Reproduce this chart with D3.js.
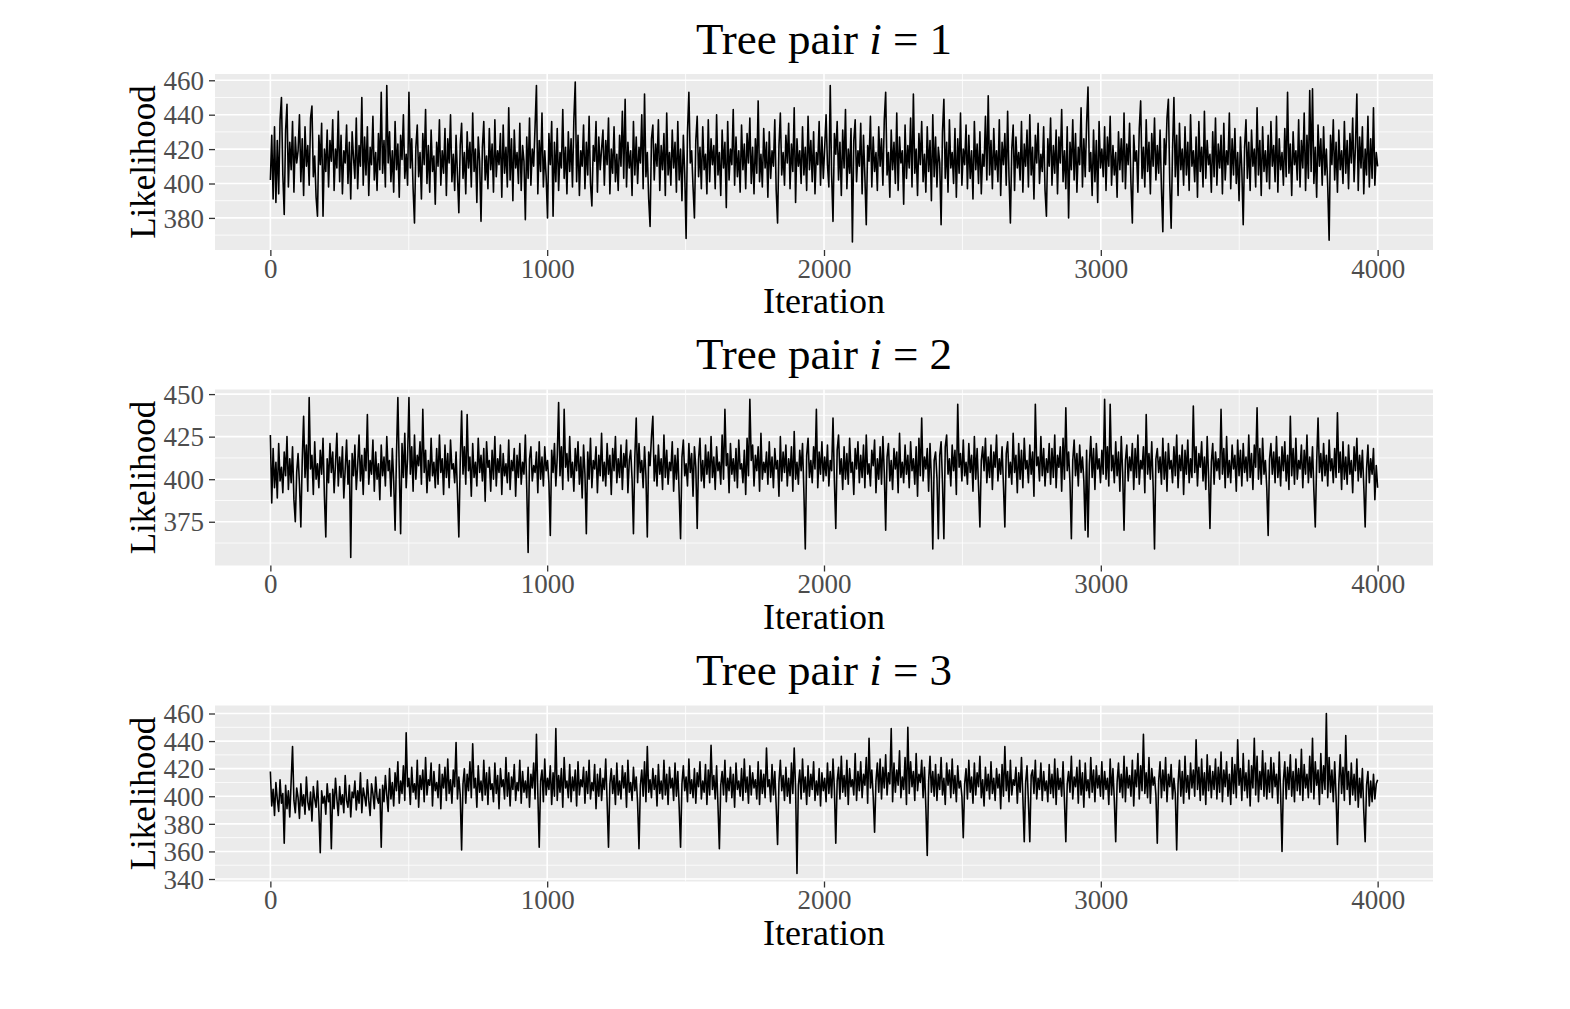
<!DOCTYPE html>
<html><head><meta charset="utf-8">
<script src="https://cdn.jsdelivr.net/npm/d3@7"></script>
<style>body{margin:0;background:#fff}</style>
</head><body><svg id="c" width="1570" height="1009"></svg>
<script>
// ---- data ----
const panelLabels = ["1", "2", "3"];
const xTicks = [0, 1000, 2000, 3000, 4000];
const xMinor = [500, 1500, 2500, 3500];
const yTicks1 = [380, 400, 420, 440, 460];
const yMinor1 = [370, 390, 410, 430, 450];
const yTicks2 = [375, 400, 425, 450];
const yMinor2 = [362.5, 387.5, 412.5, 437.5];
const yTicks3 = [340, 360, 380, 400, 420, 440, 460];
const yMinor3 = [350, 370, 390, 410, 430, 450];

// likelihood read every 5 iterations (0 .. 4000)
const likelihood1 = [
402,428,391,433,389,425,394,437,450,405,382,431,446,398,424,408,436,395,427,412,
419,440,401,426,393,433,410,422,399,438,445,404,416,392,381,428,411,435,381,420,
407,431,398,425,413,437,396,420,409,442,401,428,394,419,412,434,400,424,391,430,
415,403,438,397,422,410,450,399,427,405,433,393,421,411,439,402,418,396,429,408,
453,406,425,398,457,412,430,401,419,395,436,408,423,392,428,414,440,403,417,399,
453,409,426,397,377,421,434,404,418,391,429,411,443,400,422,395,431,407,416,388,
424,410,437,399,419,406,432,393,426,412,440,401,417,396,428,405,383,422,435,403,
418,394,430,409,424,398,441,407,420,389,427,413,378,421,436,402,416,397,432,408,
423,395,437,404,419,411,429,392,434,406,421,398,444,402,426,390,431,409,418,400,
435,396,422,413,379,427,403,438,399,420,410,433,457,394,425,407,441,398,419,404,
380,429,411,436,381,424,401,432,396,418,409,443,403,421,394,430,407,426,398,437,
459,401,428,393,419,410,434,397,424,405,439,400,387,422,413,436,395,427,408,420,
431,399,425,411,438,394,420,406,433,401,417,396,428,410,442,403,449,398,424,409,
419,393,436,405,427,400,421,412,440,397,452,404,418,391,375,426,434,402,423,410,
437,396,422,408,429,393,441,405,418,399,431,409,424,395,436,402,420,390,428,406,
368,430,453,412,419,398,380,425,439,404,421,397,433,408,417,394,437,401,426,411,
422,397,440,405,418,393,431,409,424,386,436,402,420,411,443,399,427,404,419,395,
434,408,423,397,429,412,438,400,421,394,426,406,448,401,417,398,432,409,424,392,
430,403,419,410,437,396,377,422,441,405,418,399,428,412,435,397,423,407,444,389,
426,410,419,400,433,405,421,396,439,408,425,401,430,394,418,411,436,399,427,403,
421,440,411,398,457,405,378,429,417,436,402,424,393,431,409,443,397,420,406,432,
366,425,437,401,419,410,435,394,428,404,376,422,413,439,398,427,407,418,396,433,
410,426,399,437,453,405,418,392,431,408,424,400,441,396,427,412,419,388,434,403,
422,409,438,398,452,406,420,393,429,411,436,401,417,395,433,407,425,390,440,404,
427,398,421,412,376,430,449,403,424,395,437,409,418,400,432,392,426,406,441,399,
420,411,434,397,428,403,419,391,436,408,423,400,430,394,417,410,439,402,451,405,
425,397,432,408,419,401,437,393,424,411,429,399,442,404,377,420,434,396,427,409,
418,402,436,395,423,410,431,398,440,405,421,391,428,412,435,400,417,407,433,396,
381,426,410,438,399,422,406,431,394,427,412,443,401,419,397,433,380,424,408,437,
402,429,395,421,411,444,398,426,404,435,456,407,418,393,431,401,425,389,436,409,
420,404,433,396,427,410,439,399,422,405,418,392,430,408,426,401,441,397,423,411,
435,400,377,428,413,419,395,432,448,403,421,398,437,407,424,394,429,410,438,402,
422,406,431,397,372,426,411,438,449,400,374,419,450,404,428,393,435,408,420,399,
433,405,424,396,440,410,419,401,427,392,436,407,421,398,442,403,425,411,417,395,
430,404,438,399,423,409,428,394,435,402,419,411,441,397,426,405,432,400,418,390,
427,408,376,421,437,403,424,396,431,410,420,398,444,405,425,393,433,407,419,401,
428,397,436,410,422,401,439,395,426,408,418,399,432,404,453,406,423,393,430,411,
419,402,437,398,425,409,441,396,428,403,454,407,455,400,421,392,434,410,426,399,
433,405,420,398,367,428,411,437,402,424,395,431,408,419,400,436,406,425,397,429,
412,438,401,422,452,396,427,409,433,394,420,405,439,398,426,403,444,399,418,410];

const likelihood2 = [
426,386,418,395,410,389,421,399,407,392,416,402,425,394,412,398,419,388,375,404,
415,397,372,411,437,401,420,393,448,406,414,391,422,400,409,395,417,403,424,390,
366,412,398,421,404,416,392,409,427,396,413,401,419,389,406,423,397,411,354,415,
402,420,394,408,426,399,414,391,418,405,438,397,411,403,423,393,416,400,409,388,
420,402,413,396,425,405,411,390,418,399,370,414,448,406,368,421,401,427,395,412,
448,403,419,393,426,400,414,408,422,397,441,404,417,392,411,399,424,402,410,395,
418,397,426,404,412,391,420,401,415,395,423,406,409,398,416,392,366,410,440,403,
419,397,438,405,413,390,421,401,410,396,424,404,414,399,418,387,422,407,411,393,
417,400,425,396,412,404,420,391,415,402,409,398,423,394,411,405,418,390,414,401,
421,397,410,403,426,395,357,412,419,399,408,404,416,392,422,400,413,396,419,405,
411,398,367,417,404,421,396,413,445,402,419,394,441,407,415,399,425,401,410,393,
418,405,422,397,413,389,420,403,368,416,400,424,395,411,406,419,392,414,402,427,
399,410,396,421,403,414,391,418,405,425,398,412,401,420,394,415,407,423,392,411,
417,400,368,413,436,398,421,404,411,395,419,402,366,416,408,425,437,399,414,396,
420,403,412,394,426,401,417,397,410,405,422,393,414,400,418,391,365,413,423,402,
409,396,421,404,415,390,419,407,371,412,424,399,411,395,420,403,416,398,425,401,
413,394,419,405,410,397,426,400,441,408,415,392,421,403,412,399,418,395,423,406,
409,398,417,391,424,402,447,411,420,396,414,405,419,393,427,400,410,404,416,397,
422,401,413,395,418,406,411,390,425,399,416,404,420,396,412,402,419,393,428,400,
410,397,417,405,421,392,359,414,424,401,411,398,419,406,441,395,416,403,422,399,
413,402,420,396,411,405,436,399,371,417,426,403,412,394,419,400,415,397,424,404,
410,391,418,406,422,398,414,401,420,395,426,403,409,396,417,408,423,392,412,400,
419,397,425,404,370,413,421,399,411,394,418,406,416,392,427,401,410,398,420,403,
414,395,422,405,412,397,419,390,424,402,436,399,413,406,418,393,421,400,359,411,
416,401,365,414,422,398,365,419,426,403,412,396,420,405,417,391,444,407,415,399,
423,402,410,397,421,404,414,393,425,400,418,396,372,411,419,405,424,398,413,401,
420,394,416,407,426,399,412,403,419,396,372,415,422,401,410,397,427,404,414,392,
421,400,417,395,424,406,411,398,420,403,416,390,444,408,413,399,425,402,418,396,
412,404,421,397,418,401,426,395,414,407,419,393,424,400,442,405,416,398,365,411,
423,402,415,396,420,404,413,399,370,417,366,409,425,401,418,394,421,406,412,398,
417,403,447,400,419,396,444,405,414,398,422,402,416,393,425,404,370,411,420,399,
413,405,421,394,418,401,426,397,411,406,419,392,438,403,415,400,422,396,359,412,
418,404,413,397,424,400,416,393,421,406,411,398,419,402,426,395,414,405,420,391,
417,403,423,398,412,401,443,404,419,396,415,407,422,399,413,394,425,402,371,410,
421,397,416,405,412,400,441,403,418,395,425,401,411,398,420,406,414,393,423,402,
417,396,421,404,413,399,426,401,415,394,420,407,442,400,418,397,424,403,411,395,
367,412,421,403,416,398,425,401,413,396,419,405,422,399,414,394,437,402,418,397,
424,400,411,406,420,395,417,403,426,398,413,401,419,393,372,410,436,404,415,399,
421,402,414,396,423,405,412,398,418,401,439,404,416,394,422,400,413,397,420,403,
411,392,419,405,424,399,414,401,417,396,372,406,420,398,412,403,418,388,408,395];

const likelihood3 = [
418,393,405,386,410,398,389,412,395,402,366,408,391,404,385,411,436,397,388,406,
399,384,409,393,401,387,414,396,390,403,382,407,398,392,411,389,359,404,395,400,
387,409,396,402,362,405,391,413,398,386,407,394,401,388,415,397,392,408,385,403,
399,411,390,404,395,417,388,406,400,393,412,397,386,409,402,391,414,399,395,405,
363,408,396,415,401,389,420,398,410,393,417,404,425,395,411,402,422,397,446,407,
413,394,421,403,409,398,426,392,415,405,419,396,428,401,412,408,424,393,418,404,
410,399,423,391,416,406,421,397,427,402,412,395,419,407,439,398,414,401,361,409,
420,395,416,404,425,399,438,406,413,392,422,403,411,397,426,401,417,394,421,405,
409,396,424,402,415,391,420,407,412,398,428,400,417,393,414,405,423,397,410,404,
426,395,418,403,411,399,421,392,416,406,424,398,445,402,363,411,419,396,427,401,
413,405,422,394,417,400,449,397,415,403,420,392,428,406,411,399,423,396,414,404,
419,393,425,401,412,407,421,395,418,402,426,398,410,404,423,391,416,400,420,397,
413,405,427,396,363,409,420,402,415,394,424,401,411,398,422,406,417,392,426,403,
410,397,421,404,414,395,362,408,419,400,425,396,436,403,412,399,420,405,415,393,
423,402,411,398,426,401,416,394,421,406,413,397,424,400,418,392,363,409,422,404,
414,396,427,402,412,399,420,395,417,407,425,398,411,403,423,394,419,401,437,405,
415,398,422,393,362,408,418,401,426,396,413,404,421,399,416,392,424,405,411,400,
420,397,427,403,414,395,422,401,417,406,412,398,425,394,419,402,416,399,435,407,
412,396,423,401,418,393,365,410,426,404,415,397,421,400,413,395,424,402,435,406,
344,408,419,398,427,403,414,394,422,400,416,405,425,397,411,401,420,393,417,404,
413,396,424,402,418,399,427,405,366,411,421,398,429,403,415,400,426,394,420,407,
412,401,431,397,418,404,425,399,416,408,428,395,442,406,419,400,374,411,424,403,
427,398,421,406,430,401,417,409,449,396,424,403,419,408,433,399,414,405,428,394,
450,402,425,407,418,397,431,404,416,410,426,399,421,392,357,411,429,403,418,400,
423,397,416,405,428,401,413,394,424,408,419,399,427,402,415,396,422,406,411,400,
370,409,420,398,426,403,414,395,424,401,417,407,429,399,412,393,421,404,416,398,
425,402,413,397,420,406,416,391,423,400,436,404,418,396,426,401,412,408,421,395,
417,403,428,399,367,410,422,396,367,415,419,402,426,398,413,405,424,397,418,404,
411,396,423,402,416,399,427,394,420,405,413,400,425,397,367,409,418,403,429,398,
414,407,421,395,426,401,417,392,424,404,412,399,428,403,419,396,422,406,415,400,
425,398,418,405,413,394,427,401,420,397,367,410,424,403,416,399,429,396,421,406,
415,400,426,393,419,407,431,398,422,404,445,402,417,399,428,395,420,408,414,401,
366,411,425,399,419,404,428,396,416,407,423,398,413,402,361,409,426,400,418,395,
429,403,415,398,424,406,419,400,441,405,421,397,427,401,417,394,430,404,422,399,
418,405,427,398,421,403,432,396,419,407,425,400,416,394,428,402,423,399,441,408,
420,397,431,404,417,399,426,393,422,406,442,401,429,396,418,405,433,400,424,398,
419,403,428,399,424,407,416,395,432,402,360,411,425,398,421,405,430,400,418,396,
427,404,420,401,434,397,423,406,416,399,429,403,442,398,425,408,419,394,431,402,
422,405,460,399,428,403,419,396,425,400,365,409,430,402,421,397,444,405,418,394,
424,401,416,397,427,392,413,399,420,389,367,408,418,393,411,396,416,398,409,412];

const lastIteration = 4000;

// ---- drawing ----
const svg = d3.select("#c");
const FONT = "'Liberation Serif','Times New Roman',serif";
const left = 215, right = 1433, ph = 176;
const tops = [74, 389.5, 705.5];
const series = [likelihood1, likelihood2, likelihood3];
const majors = [yTicks1, yTicks2, yTicks3];
const minors = [yMinor1, yMinor2, yMinor3];

const x = d3.scaleLinear().domain([-200, 4200]).range([left, right]);

series.forEach((vals, p) => {
  const top = tops[p], bottom = top + ph;
  const ext = d3.extent(vals), pad = (ext[1] - ext[0]) * 0.05;
  const y = d3.scaleLinear().domain([ext[0] - pad, ext[1] + pad]).range([bottom, top]);
  const n = vals.length;
  const pts = vals.map((v, i) => [i * lastIteration / (n - 1), v]);
  const g = svg.append("g");

  g.append("rect").attr("x", left).attr("y", top).attr("width", right - left).attr("height", ph).attr("fill", "#EBEBEB");
  g.selectAll(".ym").data(minors[p]).join("line")
    .attr("x1", left).attr("x2", right).attr("y1", d => y(d)).attr("y2", d => y(d))
    .attr("stroke", "#fff").attr("stroke-width", 0.8);
  g.selectAll(".xm").data(xMinor).join("line")
    .attr("y1", top).attr("y2", bottom).attr("x1", d => x(d)).attr("x2", d => x(d))
    .attr("stroke", "#fff").attr("stroke-width", 0.8);
  g.selectAll(".yM").data(majors[p]).join("line")
    .attr("x1", left).attr("x2", right).attr("y1", d => y(d)).attr("y2", d => y(d))
    .attr("stroke", "#fff").attr("stroke-width", 1.6);
  g.selectAll(".xM").data(xTicks).join("line")
    .attr("y1", top).attr("y2", bottom).attr("x1", d => x(d)).attr("x2", d => x(d))
    .attr("stroke", "#fff").attr("stroke-width", 1.6);

  g.append("path").datum(pts)
    .attr("d", d3.line().x(d => x(d[0])).y(d => y(d[1])))
    .attr("fill", "none").attr("stroke", "#000").attr("stroke-width", 1.6)
    .attr("stroke-linejoin", "round");

  const ya = g.append("g").attr("transform", `translate(${left},0)`)
    .call(d3.axisLeft(y).tickValues(majors[p]).tickSize(6).tickPadding(5).tickFormat(d3.format("d")));
  ya.select(".domain").remove();
  ya.selectAll(".tick line").attr("stroke", "#333").attr("stroke-width", 1.3);
  ya.selectAll(".tick text").attr("fill", "#4D4D4D").attr("font-family", FONT).attr("font-size", 27).attr("dy", "0.34em");

  const xa = g.append("g").attr("transform", `translate(0,${bottom})`)
    .call(d3.axisBottom(x).tickValues(xTicks).tickSize(6).tickPadding(4).tickFormat(d3.format("d")));
  xa.select(".domain").remove();
  xa.selectAll(".tick line").attr("stroke", "#333").attr("stroke-width", 1.3);
  xa.selectAll(".tick text").attr("fill", "#4D4D4D").attr("font-family", FONT).attr("font-size", 27).attr("dy", "0.66em");

  const t = g.append("text").attr("x", (left + right) / 2).attr("y", top - 20.5)
    .attr("text-anchor", "middle").attr("font-family", FONT).attr("font-size", 45).attr("fill", "#000");
  t.append("tspan").text("Tree pair ");
  t.append("tspan").attr("font-style", "italic").text("i");
  t.append("tspan").text(" = " + panelLabels[p]);

  g.append("text").attr("x", (left + right) / 2).attr("y", bottom + 63)
    .attr("text-anchor", "middle").attr("font-family", FONT).attr("font-size", 36).attr("fill", "#000")
    .text("Iteration");
  g.append("text").attr("transform", `translate(155,${(top + bottom) / 2}) rotate(-90)`)
    .attr("text-anchor", "middle").attr("font-family", FONT).attr("font-size", 35).attr("fill", "#000")
    .text("Likelihood");
});
</script></body></html>
